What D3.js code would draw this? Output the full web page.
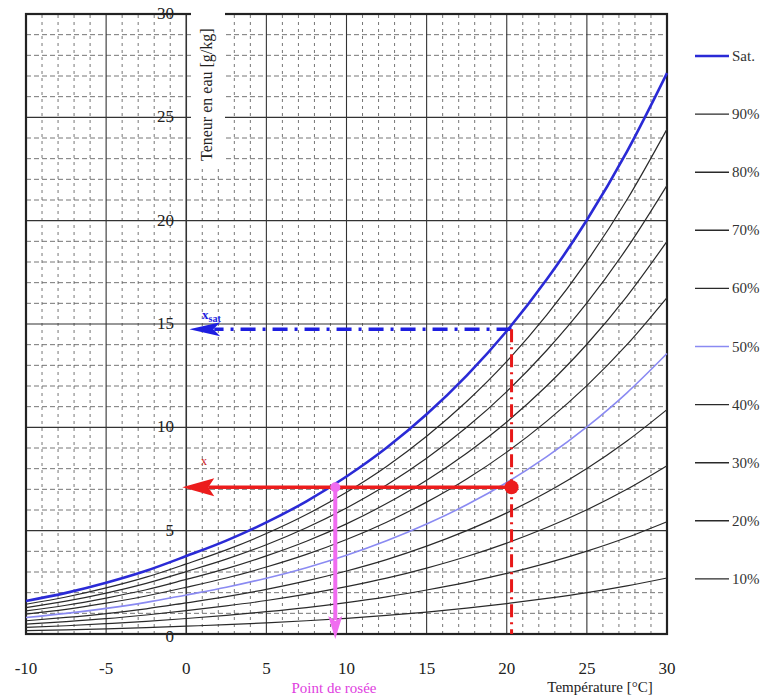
<!DOCTYPE html>
<html>
<head>
<meta charset="utf-8">
<script src="https://cdn.jsdelivr.net/npm/d3@7"></script>
<style>
  body { margin: 0; background: #fff; }
  svg { display: block; }
</style>
</head>
<body>
<svg id="chart" width="773" height="697" font-family="'Liberation Serif', 'DejaVu Serif', serif"></svg>
<script>
// temperature points [°C]
const temps = [-10, -7.5, -5, -2.5, 0, 2.5, 5, 7.5, 10, 12.5, 15, 17.5, 20, 22.5, 25, 27.5, 30];

// water content [g/kg] for each curve
const sat  = [1.60, 1.99, 2.48, 3.06, 3.77, 4.52, 5.40, 6.42, 7.62, 9.01, 10.63, 12.50, 14.66, 17.16, 20.03, 23.34, 27.14];
const rh90 = [1.44, 1.79, 2.23, 2.75, 3.39, 4.07, 4.86, 5.78, 6.86, 8.11, 9.57, 11.25, 13.19, 15.44, 18.03, 21.01, 24.43];
const rh80 = [1.28, 1.59, 1.98, 2.45, 3.02, 3.62, 4.32, 5.14, 6.10, 7.21, 8.50, 10.00, 11.73, 13.73, 16.02, 18.67, 21.71];
const rh70 = [1.12, 1.39, 1.74, 2.14, 2.64, 3.16, 3.78, 4.49, 5.33, 6.31, 7.44, 8.75, 10.26, 12.01, 14.02, 16.34, 19.00];
const rh60 = [0.96, 1.19, 1.49, 1.84, 2.26, 2.71, 3.24, 3.85, 4.57, 5.41, 6.38, 7.50, 8.80, 10.30, 12.02, 14.00, 16.28];
const rh50 = [0.80, 1.00, 1.24, 1.53, 1.89, 2.26, 2.70, 3.21, 3.81, 4.51, 5.32, 6.25, 7.33, 8.58, 10.02, 11.67, 13.57];
const rh40 = [0.64, 0.80, 0.99, 1.22, 1.51, 1.81, 2.16, 2.57, 3.05, 3.60, 4.25, 5.00, 5.86, 6.86, 8.01, 9.34, 10.86];
const rh30 = [0.48, 0.60, 0.74, 0.92, 1.13, 1.36, 1.62, 1.93, 2.29, 2.70, 3.19, 3.75, 4.40, 5.15, 6.01, 7.00, 8.14];
const rh20 = [0.32, 0.40, 0.50, 0.61, 0.75, 0.90, 1.08, 1.28, 1.52, 1.80, 2.13, 2.50, 2.93, 3.43, 4.01, 4.67, 5.43];
const rh10 = [0.16, 0.20, 0.25, 0.31, 0.38, 0.45, 0.54, 0.64, 0.76, 0.90, 1.06, 1.25, 1.47, 1.72, 2.00, 2.33, 2.71];

const curveLabels = ["Sat.", "90%", "80%", "70%", "60%", "50%", "40%", "30%", "20%", "10%"];

// worked example: air at about 20 °C
const airTemp = 20.3;
const satAtAir = 14.74;
const waterContent = 7.1;
const dewPoint = 9.3;

const xTicks = [-10, -5, 0, 5, 10, 15, 20, 25, 30];
const yTicks = [0, 5, 10, 15, 20, 25, 30];

const series = [sat, rh90, rh80, rh70, rh60, rh50, rh40, rh30, rh20, rh10].map((vals, i) => ({
  name: curveLabels[i],
  points: temps.map((t, j) => [t, vals[j]])
}));

const svg = d3.select("#chart");

const x = d3.scaleLinear().domain([-10, 30]).range([26, 667]);
const y = d3.scaleLinear().domain([0, 30]).range([634, 14]);

// minor dashed grid, every 1 unit
svg.append("g")
  .selectAll("line")
  .data(x.ticks(40).filter(d => d % 5 !== 0))
  .enter()
  .append("line")
  .attr("x1", d => x(d)).attr("x2", d => x(d))
  .attr("y1", y(0)).attr("y2", y(30))
  .attr("stroke", "#666")
  .attr("stroke-width", 0.9)
  .attr("stroke-dasharray", "3,4");

svg.append("g")
  .selectAll("line")
  .data(y.ticks(30).filter(d => d % 5 !== 0))
  .enter()
  .append("line")
  .attr("x1", x(-10)).attr("x2", x(30))
  .attr("y1", d => y(d)).attr("y2", d => y(d))
  .attr("stroke", "#666")
  .attr("stroke-width", 0.9)
  .attr("stroke-dasharray", "5,3");

// major grid, every 5 units
svg.append("g")
  .selectAll("line")
  .data(xTicks)
  .enter()
  .append("line")
  .attr("x1", d => x(d)).attr("x2", d => x(d))
  .attr("y1", y(0)).attr("y2", y(30))
  .attr("stroke", "#333")
  .attr("stroke-width", d => d === 0 ? 1.6 : 1.1);

svg.append("g")
  .selectAll("line")
  .data(yTicks)
  .enter()
  .append("line")
  .attr("x1", x(-10)).attr("x2", x(30))
  .attr("y1", d => y(d)).attr("y2", d => y(d))
  .attr("stroke", "#333")
  .attr("stroke-width", 1.1);

// frame
svg.append("rect")
  .attr("x", x(-10)).attr("y", y(30))
  .attr("width", x(30) - x(-10))
  .attr("height", y(0) - y(30))
  .attr("fill", "none")
  .attr("stroke", "#222")
  .attr("stroke-width", 2.2);

// y axis title on a white box
svg.append("rect")
  .attr("x", 191).attr("y", 6)
  .attr("width", 34).attr("height", 160)
  .attr("fill", "#fff");

svg.append("text")
  .attr("transform", "translate(212,161) rotate(-90)")
  .attr("font-size", 16)
  .attr("fill", "#222")
  .text("Teneur en eau [g/kg]");

// y tick labels
svg.append("g")
  .selectAll("text")
  .data(yTicks)
  .enter()
  .append("text")
  .attr("x", 174)
  .attr("y", d => y(d) + (d === 0 ? 8 : 5))
  .attr("text-anchor", "end")
  .attr("font-size", 17)
  .attr("fill", "#222")
  .text(d => d);

// x tick labels
svg.append("g")
  .selectAll("text")
  .data(xTicks)
  .enter()
  .append("text")
  .attr("x", d => x(d))
  .attr("y", 674)
  .attr("text-anchor", "middle")
  .attr("font-size", 17)
  .attr("fill", "#222")
  .text(d => d);

const colorOf = name => name === "Sat." ? "#2a2ad6" : name === "50%" ? "#8a8af2" : "#2a2a2a";
const widthOf = name => name === "Sat." ? 2.6 : name === "50%" ? 1.6 : 1.2;

const line = d3.line()
  .x(d => x(d[0]))
  .y(d => y(d[1]))
  .curve(d3.curveMonotoneX);

svg.append("g")
  .selectAll("path")
  .data(series.slice().reverse())
  .enter()
  .append("path")
  .attr("d", d => line(d.points))
  .attr("fill", "none")
  .attr("stroke", d => colorOf(d.name))
  .attr("stroke-width", d => widthOf(d.name));

// legend
const legend = svg.append("g")
  .selectAll("g")
  .data(series)
  .enter()
  .append("g")
  .attr("transform", (d, i) => `translate(695,${56 + i * 58.1})`);

legend.append("line")
  .attr("x1", 0).attr("x2", 34)
  .attr("stroke", d => colorOf(d.name))
  .attr("stroke-width", d => d.name === "Sat." ? 2.6 : 1.4);

legend.append("text")
  .attr("x", 37).attr("y", 5)
  .attr("font-size", 15)
  .attr("fill", "#333")
  .text(d => d.name);

// saturation reading (blue)
const ySat = y(satAtAir);
svg.append("line")
  .attr("x1", x(airTemp)).attr("x2", x(0) + 28)
  .attr("y1", ySat).attr("y2", ySat)
  .attr("stroke", "#1e1ee0")
  .attr("stroke-width", 3.5)
  .attr("stroke-dasharray", "15,7,3,7");

svg.append("path")
  .attr("d", `M${x(0) + 3},${ySat} L${x(0) + 34},${ySat - 7} L${x(0) + 27},${ySat} L${x(0) + 34},${ySat + 7} Z`)
  .attr("fill", "#1e1ee0");

const satLabel = svg.append("text")
  .attr("x", 202).attr("y", ySat - 10)
  .attr("font-size", 13)
  .attr("font-weight", "bold")
  .attr("fill", "#1e1ee0");
satLabel.append("tspan").text("x");
satLabel.append("tspan").attr("font-size", 10).attr("dy", 3).text("sat");

// vertical red dash-dot at the air temperature
svg.append("line")
  .attr("x1", x(airTemp)).attr("x2", x(airTemp))
  .attr("y1", ySat).attr("y2", y(0))
  .attr("stroke", "#e81818")
  .attr("stroke-width", 3)
  .attr("stroke-dasharray", "13,5,2,5");

// actual water content (red)
const yW = y(waterContent);
svg.append("line")
  .attr("x1", x(airTemp)).attr("x2", x(0) + 22)
  .attr("y1", yW).attr("y2", yW)
  .attr("stroke", "#ec1c1c")
  .attr("stroke-width", 3.5);

svg.append("path")
  .attr("d", `M${x(0) - 4},${yW} L${x(0) + 28},${yW - 9} L${x(0) + 22},${yW} L${x(0) + 28},${yW + 9} Z`)
  .attr("fill", "#ec1c1c");

svg.append("circle")
  .attr("cx", x(airTemp)).attr("cy", yW)
  .attr("r", 7)
  .attr("fill", "#ec1c1c");

svg.append("text")
  .attr("x", 201).attr("y", yW - 22)
  .attr("font-size", 12)
  .attr("fill", "#cc2020")
  .text("x");

// dew point (magenta)
const xD = x(dewPoint);
svg.append("line")
  .attr("x1", xD).attr("x2", xD)
  .attr("y1", yW).attr("y2", y(0) - 14)
  .attr("stroke", "#f06cf0")
  .attr("stroke-width", 4);

svg.append("path")
  .attr("d", `M${xD},${y(0) + 5} L${xD - 7},${y(0) - 18} L${xD},${y(0) - 13} L${xD + 7},${y(0) - 18} Z`)
  .attr("fill", "#f06cf0");

svg.append("circle")
  .attr("cx", xD).attr("cy", yW)
  .attr("r", 5)
  .attr("fill", "#f06cf0");

// axis captions
svg.append("text")
  .attr("x", 334).attr("y", 693)
  .attr("text-anchor", "middle")
  .attr("font-size", 15)
  .attr("fill", "#e040e0")
  .text("Point de rosée");

svg.append("text")
  .attr("x", 600).attr("y", 692)
  .attr("text-anchor", "middle")
  .attr("font-size", 15)
  .attr("fill", "#222")
  .text("Température [°C]");
</script>
</body>
</html>
